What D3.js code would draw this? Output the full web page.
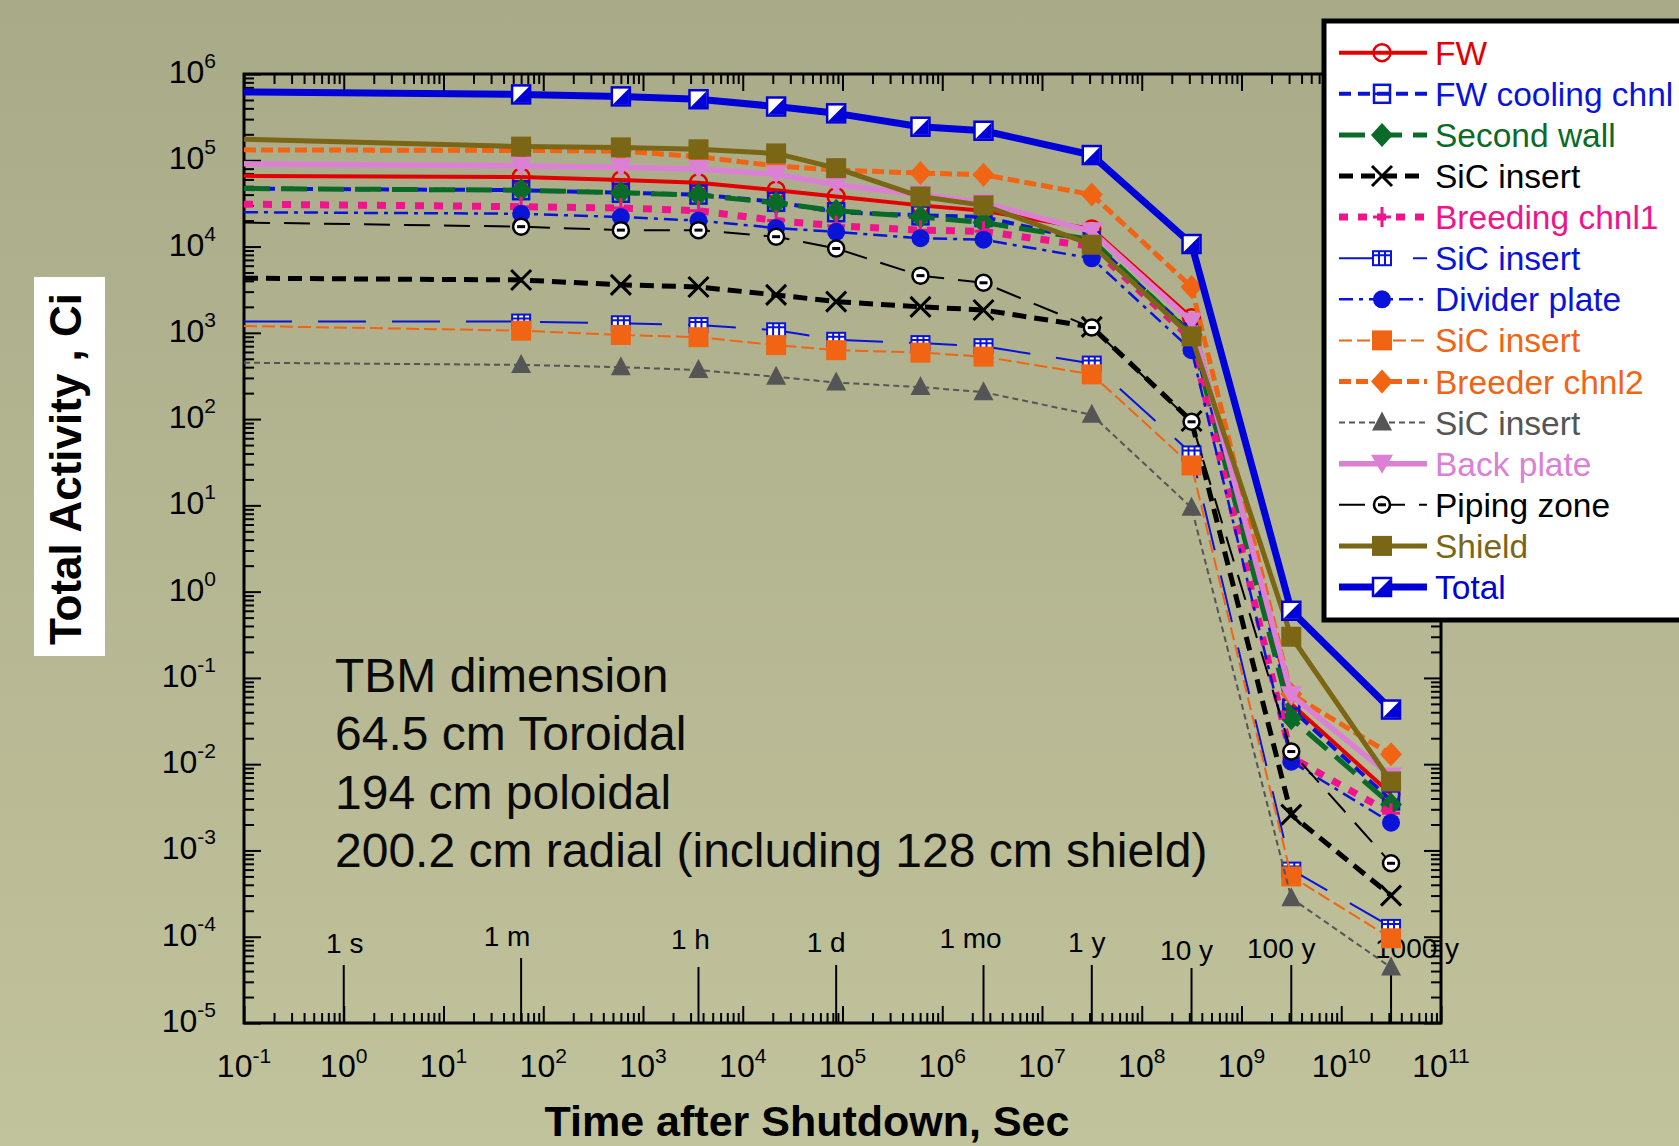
<!DOCTYPE html>
<html>
<head>
<meta charset="utf-8">
<script src="https://cdn.jsdelivr.net/npm/d3@7"></script>
<style>
  html, body { margin: 0; padding: 0; background: #b5b692; }
  svg { display: block; }
  text { font-family: "Liberation Sans", Arial, sans-serif; }
</style>
</head>
<body>
<svg id="chart" width="1679" height="1146"></svg>
<script>
// Decay times after shutdown, in seconds: 0.1 s, 1 m, 10 m, 1 h, 6 h, 1 d, 1 wk, 1 mo, 1 y, 10 y, 100 y, 1000 y
const times = [0.1, 60, 600, 3600, 21600, 86400, 604800, 2592000, 31557600, 315576000, 3155760000, 31557600000];

// Total activity (Ci) per TBM zone
const fw            = [6.6e4, 6.4e4, 5.9e4, 5.5e4, 4.5e4, 3.8e4, 3.0e4, 2.6e4, 1.6e4, 1.5e3, 0.05, 0.0045];
const fwCooling     = [4.7e4, 4.5e4, 4.2e4, 4.0e4, 3.3e4, 2.5e4, 2.3e4, 2.2e4, 1.15e4, 1.0e3, 0.044, 0.0038];
const secondWall    = [4.7e4, 4.5e4, 4.2e4, 3.95e4, 3.2e4, 2.6e4, 2.2e4, 1.9e4, 1.2e4, 950, 0.034, 0.0034];
const sicInsert1    = [4.3e3, 4.1e3, 3.6e3, 3.4e3, 2.75e3, 2.3e3, 2.0e3, 1.84e3, 1.17e3, 95, 0.0026, 3.0e-4];
const breedingChnl1 = [3.1e4, 2.9e4, 2.8e4, 2.6e4, 2.0e4, 1.74e4, 1.55e4, 1.5e4, 1.0e4, 850, 0.012, 0.0027];
const sicInsert2    = [1.35e3, 1.35e3, 1.29e3, 1.23e3, 1.07e3, 830, 760, 700, 440, 40, 6.0e-4, 1.3e-4];
const dividerPlate  = [2.5e4, 2.4e4, 2.2e4, 2.0e4, 1.64e4, 1.48e4, 1.25e4, 1.2e4, 7.3e3, 630, 0.0107, 0.0021];
const sicInsert3    = [1.2e3, 1.06e3, 944, 890, 720, 630, 590, 530, 330, 29, 5.0e-4, 9.6e-5];
const breederChnl2  = [1.32e5, 1.3e5, 1.28e5, 1.1e5, 8.6e4, 7.7e4, 7.1e4, 6.8e4, 4.0e4, 3.4e3, 0.065, 0.013];
const sicInsert4    = [450, 425, 400, 370, 310, 265, 235, 205, 112, 9.4, 2.8e-4, 4.4e-5];
const backPlate     = [9.1e4, 8.6e4, 8.3e4, 7.9e4, 6.9e4, 5.2e4, 4.0e4, 3.2e4, 1.5e4, 1.35e3, 0.063, 0.0072];
const pipingZone    = [1.9e4, 1.7e4, 1.55e4, 1.55e4, 1.3e4, 9.5e3, 4.6e3, 3.8e3, 1.15e3, 93, 0.014, 7.1e-4];
const shield        = [1.75e5, 1.44e5, 1.41e5, 1.34e5, 1.2e5, 8.1e4, 3.8e4, 3.0e4, 1.05e4, 910, 0.3, 0.0063];
const total         = [6.2e5, 5.8e5, 5.5e5, 5.1e5, 4.2e5, 3.5e5, 2.45e5, 2.2e5, 1.15e5, 1.07e4, 0.6, 0.043];

const seriesNames = ["FW", "FW cooling chnl", "Second wall", "SiC insert", "Breeding chnl1", "SiC insert",
  "Divider plate", "SiC insert", "Breeder chnl2", "SiC insert", "Back plate", "Piping zone", "Shield", "Total"];
const seriesValues = [fw, fwCooling, secondWall, sicInsert1, breedingChnl1, sicInsert2,
  dividerPlate, sicInsert3, breederChnl2, sicInsert4, backPlate, pipingZone, shield, total];

// Axis decades (exponents)
const xDecades = [-1, 0, 1, 2, 3, 4, 5, 6, 7, 8, 9, 10, 11];
const yDecades = [-5, -4, -3, -2, -1, 0, 1, 2, 3, 4, 5, 6];

// Reference time marks along the bottom of the plot
const timeMarkLabels = ["1 s", "1 m", "1 h", "1 d", "1 mo", "1 y", "10 y", "100 y", "1000 y"];
const timeMarkSeconds = [1, 60, 3600, 86400, 2592000, 31557600, 315576000, 3155760000, 31557600000];

const noteLines = ["TBM dimension", "64.5 cm Toroidal", "194 cm poloidal", "200.2 cm radial (including 128 cm shield)"];

// ---- styling ----
const styles = [
  { color: "#e30000", width: 4,   dash: null,          marker: "openCircle" },
  { color: "#0a14d8", width: 4,   dash: "12,7",        marker: "openSquareBar" },
  { color: "#0a6a28", width: 5,   dash: "26,11",       marker: "diamond" },
  { color: "#000000", width: 5,   dash: "14,8",        marker: "cross" },
  { color: "#f0148c", width: 7,   dash: "9,10",        marker: "plus" },
  { color: "#0a14d8", width: 2,   dash: "48,26",       marker: "gridSquare" },
  { color: "#0a14d8", width: 2.5, dash: "14,6,4,6",    marker: "dot" },
  { color: "#f06414", width: 2,   dash: "13,5",        marker: "square" },
  { color: "#f06414", width: 5,   dash: "12,5",        marker: "diamond" },
  { color: "#555555", width: 2,   dash: "6,4",         marker: "triUp" },
  { color: "#dc80d6", width: 5.5, dash: null,          marker: "triDown" },
  { color: "#000000", width: 2,   dash: "26,14",       marker: "pipe" },
  { color: "#7a6614", width: 5,   dash: null,          marker: "square" },
  { color: "#0000d8", width: 7,   dash: null,          marker: "halfSquare" }
];
const timeMarkLayout = [
  { dx: 1,   base: 953, top: 965 },
  { dx: -14, base: 946, top: 958 },
  { dx: -8,  base: 949, top: 967 },
  { dx: -10, base: 952, top: 965 },
  { dx: -13, base: 948, top: 965 },
  { dx: -5,  base: 952, top: 965 },
  { dx: -5,  base: 960, top: 968 },
  { dx: -10, base: 958, top: 965 },
  { dx: 26,  base: 958, top: 960 }
];

const svg = d3.select("#chart");
const W = 1679, H = 1146;
const plot = { left: 244, right: 1441, top: 74, bottom: 1023 };

const x = d3.scaleLog().domain([1e-1, 1e11]).range([plot.left, plot.right]);
const y = d3.scaleLog().domain([1e-5, 1e6]).range([plot.bottom, plot.top]);

// background
const defs = svg.append("defs");
const grad = defs.append("linearGradient").attr("id", "bg").attr("x1", 0).attr("y1", 0).attr("x2", 0).attr("y2", 1);
grad.append("stop").attr("offset", "0%").attr("stop-color", "#a9aa88");
grad.append("stop").attr("offset", "100%").attr("stop-color", "#c1c39c");
svg.append("rect").attr("width", W).attr("height", H).attr("fill", "url(#bg)");

// ---- axes ----
const majorX = xDecades.map(k => Math.pow(10, k));
const minorX = [];
xDecades.slice(0, -1).forEach(k => { for (let j = 2; j <= 9; j++) minorX.push(j * Math.pow(10, k)); });
const majorY = yDecades.map(k => Math.pow(10, k));
const minorY = [];
yDecades.slice(0, -1).forEach(k => { for (let j = 2; j <= 9; j++) minorY.push(j * Math.pow(10, k)); });

function styleAxis(g) {
  g.select(".domain").remove();
  g.selectAll(".tick line").attr("stroke", "#000").attr("stroke-width", 2);
}
const axes = svg.append("g");
[[majorX, 17], [minorX, 10]].forEach(([vals, len]) => {
  axes.append("g").attr("transform", `translate(0,${plot.bottom})`)
    .call(d3.axisBottom(x).tickValues(vals).tickSize(-len).tickSizeOuter(0).tickFormat(""))
    .call(styleAxis);
  axes.append("g").attr("transform", `translate(0,${plot.top})`)
    .call(d3.axisTop(x).tickValues(vals).tickSize(-len).tickSizeOuter(0).tickFormat(""))
    .call(styleAxis);
});
[[majorY, 17], [minorY, 10]].forEach(([vals, len]) => {
  axes.append("g").attr("transform", `translate(${plot.left},0)`)
    .call(d3.axisLeft(y).tickValues(vals).tickSize(-len).tickSizeOuter(0).tickFormat(""))
    .call(styleAxis);
  axes.append("g").attr("transform", `translate(${plot.right},0)`)
    .call(d3.axisRight(y).tickValues(vals).tickSize(-len).tickSizeOuter(0).tickFormat(""))
    .call(styleAxis);
});
axes.append("rect")
  .attr("x", plot.left).attr("y", plot.top)
  .attr("width", plot.right - plot.left).attr("height", plot.bottom - plot.top)
  .attr("fill", "none").attr("stroke", "#000").attr("stroke-width", 3);

// tick labels
const xl = svg.append("g");
xDecades.forEach(k => {
  const t = xl.append("text").attr("x", x(Math.pow(10, k))).attr("y", 1077)
    .attr("text-anchor", "middle").attr("font-size", 32).attr("fill", "#000");
  t.append("tspan").text("10");
  t.append("tspan").attr("font-size", 21).attr("dy", -14).text(String(k));
});
const yl = svg.append("g");
yDecades.forEach(k => {
  const t = yl.append("text").attr("x", 216).attr("y", y(Math.pow(10, k)) + 9)
    .attr("text-anchor", "end").attr("font-size", 32).attr("fill", "#000");
  t.append("tspan").text("10");
  t.append("tspan").attr("font-size", 21).attr("dy", -15).text(String(k));
});

// axis titles
svg.append("text").attr("x", 807).attr("y", 1136).attr("text-anchor", "middle")
  .attr("font-size", 43).attr("font-weight", "bold").attr("fill", "#000")
  .text("Time after Shutdown, Sec");
svg.append("rect").attr("x", 34).attr("y", 277).attr("width", 71).attr("height", 379).attr("fill", "#fff");
svg.append("text").attr("transform", "translate(81,469) rotate(-90)").attr("text-anchor", "middle")
  .attr("font-size", 44).attr("font-weight", "bold").attr("fill", "#000")
  .text("Total Activity , Ci");

// time marks
const tm = svg.append("g");
timeMarkLabels.forEach((lab, i) => {
  const px = x(timeMarkSeconds[i]);
  const L = timeMarkLayout[i];
  tm.append("line").attr("x1", px).attr("x2", px).attr("y1", L.top).attr("y2", plot.bottom)
    .attr("stroke", "#000").attr("stroke-width", 2);
  tm.append("text").attr("x", px + L.dx).attr("y", L.base).attr("text-anchor", "middle")
    .attr("font-size", 28).attr("fill", "#000").text(lab);
});

// annotation block
const note = svg.append("g");
noteLines.forEach((s, i) => {
  note.append("text").attr("x", 335).attr("y", 692 + i * 58.3)
    .attr("font-size", 48).attr("fill", "#0a0a0a").text(s);
});

// ---- markers ----
function drawMarker(g, type, color) {
  switch (type) {
    case "openCircle":
      g.append("circle").attr("r", 8.5).attr("fill", "none").attr("stroke", color).attr("stroke-width", 2.5);
      break;
    case "openSquareBar":
      g.append("rect").attr("x", -8).attr("y", -9).attr("width", 16).attr("height", 18)
        .attr("fill", "none").attr("stroke", color).attr("stroke-width", 2.5);
      g.append("line").attr("x1", -8).attr("x2", 8).attr("y1", 0).attr("y2", 0)
        .attr("stroke", color).attr("stroke-width", 2.5);
      break;
    case "diamond":
      g.append("path").attr("d", "M0,-12L11,0L0,12L-11,0Z").attr("fill", color);
      break;
    case "cross":
      g.append("path").attr("d", "M-10,-10L10,10M-10,10L10,-10").attr("stroke", color).attr("stroke-width", 3);
      break;
    case "plus":
      g.append("path").attr("d", "M-9,0L9,0M0,-10L0,10").attr("stroke", color).attr("stroke-width", 3);
      break;
    case "gridSquare":
      g.append("rect").attr("x", -9).attr("y", -7).attr("width", 18).attr("height", 14)
        .attr("fill", "#fff").attr("stroke", color).attr("stroke-width", 2);
      g.append("path").attr("d", "M-3,-7L-3,7M3,-7L3,7M-9,-3L9,-3").attr("stroke", color).attr("stroke-width", 2);
      break;
    case "dot":
      g.append("circle").attr("r", 9).attr("fill", color);
      break;
    case "square":
      g.append("rect").attr("x", -10).attr("y", -10).attr("width", 20).attr("height", 20).attr("fill", color);
      break;
    case "triUp":
      g.append("path").attr("d", "M0,-11L10,8L-10,8Z").attr("fill", color);
      break;
    case "triDown":
      g.append("path").attr("d", "M0,10L11,-9L-11,-9Z").attr("fill", color);
      break;
    case "pipe":
      g.append("circle").attr("r", 8).attr("fill", "#fff").attr("stroke", color).attr("stroke-width", 2.5);
      g.append("rect").attr("x", -4).attr("y", -1.5).attr("width", 8).attr("height", 3).attr("fill", color);
      break;
    case "halfSquare":
      g.append("rect").attr("x", -9).attr("y", -9).attr("width", 18).attr("height", 18)
        .attr("fill", "#fff").attr("stroke", color).attr("stroke-width", 2.5);
      g.append("path").attr("d", "M8,-8L8,8L-8,8Z").attr("fill", color);
      break;
  }
}

// ---- series ----
const line = d3.line().x((d, i) => x(times[i])).y(d => y(d));
const seriesLayer = svg.append("g");
seriesValues.forEach((vals, s) => {
  const st = styles[s];
  const g = seriesLayer.append("g");
  g.append("path").datum(vals).attr("d", line)
    .attr("fill", "none").attr("stroke", st.color).attr("stroke-width", st.width)
    .attr("stroke-dasharray", st.dash).attr("stroke-linejoin", "round");
  vals.forEach((v, i) => {
    if (i === 0) return;
    const m = g.append("g").attr("transform", `translate(${x(times[i])},${y(v)})`);
    drawMarker(m, st.marker, st.color);
  });
});

// ---- legend ----
const legend = svg.append("g");
legend.append("rect").attr("x", 1324).attr("y", 21).attr("width", 420).attr("height", 599)
  .attr("fill", "#fff").attr("stroke", "#000").attr("stroke-width", 5);
seriesNames.forEach((name, i) => {
  const st = styles[i];
  const cy = 52.7 + i * 41.1;
  legend.append("line").attr("x1", 1339).attr("x2", 1427).attr("y1", cy).attr("y2", cy)
    .attr("stroke", st.color).attr("stroke-width", st.width).attr("stroke-dasharray", st.dash);
  drawMarker(legend.append("g").attr("transform", `translate(1382,${cy})`), st.marker, st.color);
  legend.append("text").attr("x", 1435).attr("y", cy + 12).attr("font-size", 33.5)
    .attr("fill", st.color).text(name);
});
</script>
</body>
</html>
